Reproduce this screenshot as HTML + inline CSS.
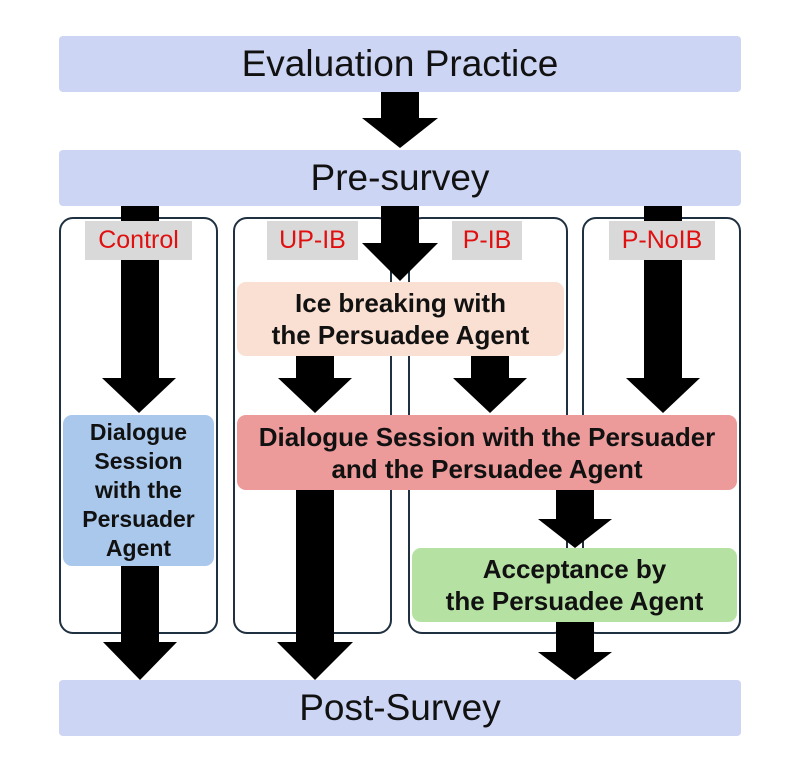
<!DOCTYPE html>
<html><head><style>
body{margin:0;width:806px;height:767px;background:#fff;position:relative;overflow:hidden;font-family:"Liberation Sans",sans-serif}
.a{position:absolute}
.bar{position:absolute;left:59px;width:682px;height:56px;background:#cdd5f4;border-radius:4px;font-size:37px;display:flex;align-items:center;justify-content:center;color:#111}
.panel{position:absolute;top:217px;height:417px;border:2px solid #1f3040;border-radius:14px;box-sizing:border-box}
.lab{position:absolute;top:221px;height:39px;background:#d9d9d9;color:#e01010;font-size:25px;display:flex;align-items:center;justify-content:center;white-space:nowrap}
.box{position:absolute;border-radius:9px;font-weight:bold;font-size:26px;line-height:32px;text-align:center;display:flex;align-items:center;justify-content:center;color:#111;white-space:nowrap}
</style></head><body>
<div class="bar" style="top:36px">Evaluation Practice</div>
<div class="bar" style="top:150px">Pre-survey</div>
<div class="bar" style="top:680px">Post-Survey</div>
<div class="panel" style="left:59px;width:159px"></div>
<div class="panel" style="left:233px;width:159px"></div>
<div class="panel" style="left:408px;width:160px"></div>
<div class="panel" style="left:582px;width:159px"></div>
<svg class="a" style="left:0;top:0" width="806" height="767">
<g fill="#000">
<polygon points="381,92 419,92 419,118 438,118 400,148 362,118 381,118"/>
<polygon points="121,206 159,206 159,378 176,378 139,413 102,378 121,378"/>
<polygon points="121,566 159,566 159,642 177,642 140,680 103,642 121,642"/>
<polygon points="381,206 419,206 419,243 438,243 400,281 362,243 381,243"/>
<polygon points="296,356 334,356 334,378 352,378 315,413 278,378 296,378"/>
<polygon points="471,356 509,356 509,378 527,378 490,413 453,378 471,378"/>
<polygon points="644,206 682,206 682,378 700,378 663,413 626,378 644,378"/>
<polygon points="296,490 334,490 334,642 353,642 315,680 277,642 296,642"/>
<polygon points="556,490 594,490 594,519 612,519 575,548 538,519 556,519"/>
<polygon points="556,622 594,622 594,652 612,652 575,680 538,652 556,652"/>
</g></svg>
<div class="lab" style="left:85px;width:107px">Control</div>
<div class="lab" style="left:267px;width:91px">UP-IB</div>
<div class="lab" style="left:452px;width:70px">P-IB</div>
<div class="lab" style="left:609px;width:106px">P-NoIB</div>
<div class="box" style="left:237px;top:282px;width:327px;height:74px;background:#fae0d2">Ice breaking with<br>the Persuadee Agent</div>
<div class="box" style="left:63px;top:415px;width:151px;height:151px;background:#a9c8ec;font-size:23px;line-height:29px">Dialogue<br>Session<br>with the<br>Persuader<br>Agent</div>
<div class="box" style="left:237px;top:415px;width:500px;height:75px;background:#ec9a9a">Dialogue Session with the Persuader<br>and the Persuadee Agent</div>
<div class="box" style="left:412px;top:548px;width:325px;height:74px;background:#b5e2a3">Acceptance by<br>the Persuadee Agent</div>
</body></html>
